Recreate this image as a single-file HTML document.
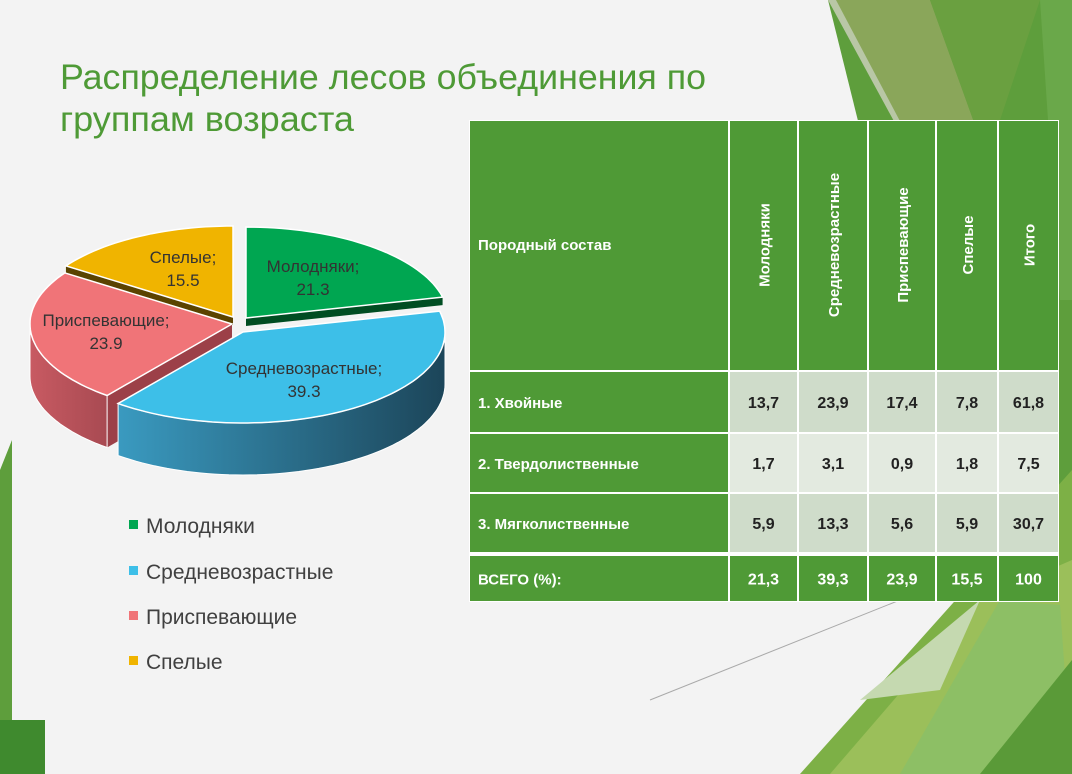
<!DOCTYPE html>
<html><head><meta charset="utf-8"><style>
html,body{margin:0;padding:0;width:1072px;height:774px;overflow:hidden;background:#f3f3f3}
svg{display:block}
text{font-family:"Liberation Sans","DejaVu Sans",sans-serif}
</style></head><body>
<svg id="s" width="1072" height="774" viewBox="0 0 1072 774" xmlns="http://www.w3.org/2000/svg">
<defs>
<linearGradient id="bs" x1="0" x2="1" y1="0" y2="0"><stop offset="0" stop-color="#3a9ac0"/><stop offset="1" stop-color="#1c4559"/></linearGradient>
<linearGradient id="ps" x1="0" x2="1"><stop offset="0" stop-color="#c85a62"/><stop offset="1" stop-color="#a84a52"/></linearGradient>
</defs>
<rect width="1072" height="774" fill="#f3f3f3"/>
<polygon points="828,0 1072,0 1072,774 1020,774" fill="#5e9e3c"/>
<polygon points="828,0 930,0 975,125 900,125" fill="#8aa65a"/>
<polygon points="930,0 1040,0 1000,120 975,125" fill="#6aa040"/>
<polygon points="1040,0 1072,0 1072,300 1060,300" fill="#6aa84a"/>
<polygon points="828,0 836,0 902,125 896,125" fill="#b9c7a6"/>
<polygon points="800,774 1072,470 1072,774" fill="#7db046"/>
<polygon points="830,774 980,600 1072,560 1072,774" fill="#9bbf5a"/>
<polygon points="900,774 1000,600 1060,605 1072,774" fill="#88bf6a" opacity="0.7"/>
<polygon points="980,774 1072,660 1072,774" fill="#5a9a38"/>
<polygon points="860,700 980,600 940,690" fill="#c5d9b0"/>
<line x1="650" y1="700" x2="900" y2="600" stroke="#aaa" stroke-width="1"/>
<polygon points="0,470 12,440 12,774 0,774" fill="#5e9e3c"/>
<rect x="0" y="720" width="45" height="54" fill="#3f8a2e"/>
<text x="60" y="89" font-size="35" fill="#4e9a36" textLength="646" lengthAdjust="spacingAndGlyphs">Распределение лесов объединения по</text>
<text x="60" y="131" font-size="35" fill="#4e9a36" textLength="294" lengthAdjust="spacingAndGlyphs">группам возраста</text>
<g id="pie"></g>
<g font-size="21" fill="#404040">
<rect x="129" y="520" width="9" height="9" fill="#00a651"/><text x="146" y="533">Молодняки</text>
<rect x="129" y="566" width="9" height="9" fill="#3dbfe8"/><text x="146" y="579">Средневозрастные</text>
<rect x="129" y="611" width="9" height="9" fill="#f07478"/><text x="146" y="624">Приспевающие</text>
<rect x="129" y="656" width="9" height="9" fill="#f0b400"/><text x="146" y="669">Спелые</text>
</g>
<g id="tbl"></g>
</svg>
<script>
var NS="http://www.w3.org/2000/svg";
function el(p,n,a,t){var e=document.createElementNS(NS,n);for(var k in a)e.setAttribute(k,a[k]);if(t!=null)e.textContent=t;p.appendChild(e);return e;}
var cx=237,cy=326,rx=202,ry=91,D=52;
function P(th,ox,oy,dy){var r=th*Math.PI/180;return [cx+ox+rx*Math.sin(r),cy+oy-ry*Math.cos(r)+(dy||0)];}
function arc(a,b,ox,oy,dy){var s="";for(var t=a;t<=b+0.001;t+=2){var p=P(Math.min(t,b),ox,oy,dy);s+=p[0].toFixed(1)+","+p[1].toFixed(1)+" ";}var p=P(b,ox,oy,dy);s+=p[0].toFixed(1)+","+p[1].toFixed(1)+" ";return s;}
var pie=document.getElementById("pie");
var sl=[
 {a:0,b:76.7,ox:9,oy:-8,c:"#00a651",side:"#005c2a"},
 {a:304.2,b:360,ox:-4,oy:-9,c:"#f0b400",side:"#6a5000"},
 {a:218.2,b:304.2,ox:-5,oy:-2,c:"#f07478",side:"url(#ps)"},
 {a:76.7,b:218.2,ox:6,oy:6,c:"#3dbfe8",side:"url(#bs)"}
];
sl.forEach(function(s){
 var c0=[cx+s.ox,cy+s.oy];
 if(s.c=="#00a651"){var p=P(76.7,s.ox,s.oy);el(pie,"polygon",{points:c0[0]+","+c0[1]+" "+p[0]+","+p[1]+" "+p[0]+","+(p[1]+8)+" "+c0[0]+","+(c0[1]+8),fill:"#004d22"});}
 if(s.c=="#f0b400"){var p=P(304.2,s.ox,s.oy);el(pie,"polygon",{points:c0[0]+","+c0[1]+" "+p[0]+","+p[1]+" "+p[0]+","+(p[1]+8)+" "+c0[0]+","+(c0[1]+8),fill:"#5a4300"});}
 if(s.c=="#f07478"){var p=P(218.2,s.ox,s.oy);el(pie,"polygon",{points:c0[0]+","+c0[1]+" "+p[0]+","+p[1]+" "+p[0]+","+(p[1]+D)+" "+c0[0]+","+(c0[1]+D),fill:"#9c4048"});}
 var a=Math.max(s.a,90),b=Math.min(s.b,270);
 if(b>a){el(pie,"polygon",{points:arc(a,b,s.ox,s.oy)+arc(a,b,s.ox,s.oy,D).split(" ").filter(Boolean).reverse().join(" "),fill:s.side,stroke:"#fff","stroke-width":"1"});}
 el(pie,"polygon",{points:(cx+s.ox)+","+(cy+s.oy)+" "+arc(s.a,s.b,s.ox,s.oy),fill:s.c,stroke:"#fff","stroke-width":"1.5"});
});
var lb=[["Молодняки;",313,272],["21.3",313,295],["Спелые;",183,263],["15.5",183,286],["Приспевающие;",106,326],["23.9",106,349],["Средневозрастные;",304,374],["39.3",304,397]];
lb.forEach(function(l){el(pie,"text",{x:l[1],y:l[2],"font-size":"17","text-anchor":"middle",fill:"#333"},l[0]);});
var T=document.getElementById("tbl");
var xs=[469,729,798,868,936,998,1059], ys=[120,371,433,493,553,602];
var G="#4f9a36";
el(T,"rect",{x:469,y:120,width:590,height:482,fill:"#fff"});
var fills=[G,"#cfdcca","#e3eae0","#cfdcca",G];
for(var r=0;r<5;r++)for(var c=0;c<6;c++){
 var f=(c==0||r==0)?G:fills[r];
 el(T,"rect",{x:xs[c]+1,y:ys[r]+1+(r==4?2:0),width:xs[c+1]-xs[c]-2,height:ys[r+1]-ys[r]-2-(r==4?2:0),fill:f});
}
var hd=["Молодняки","Средневозрастные","Приспевающие","Спелые","Итого"];
el(T,"text",{x:478,y:250,"font-size":"15","font-weight":"bold",fill:"#fff"},"Породный состав");
hd.forEach(function(h,i){var x=(xs[i+1]+xs[i+2])/2+6;el(T,"text",{x:x,y:245,"font-size":"15","font-weight":"bold",fill:"#fff","text-anchor":"middle",transform:"rotate(-90 "+x+" 245)"},h);});
var rows=[["1. Хвойные","13,7","23,9","17,4","7,8","61,8"],["2. Твердолиственные","1,7","3,1","0,9","1,8","7,5"],["3. Мягколиственные","5,9","13,3","5,6","5,9","30,7"],["ВСЕГО (%):","21,3","39,3","23,9","15,5","100"]];
rows.forEach(function(rw,i){var y=(ys[i+1]+ys[i+2])/2+6+(i==3?1:0);
 el(T,"text",{x:478,y:y,"font-size":"15","font-weight":"bold",fill:"#fff"},rw[0]);
 for(var c=1;c<6;c++)el(T,"text",{x:(xs[c]+xs[c+1])/2,y:y,"font-size":"16","font-weight":"bold","text-anchor":"middle",fill:i==3?"#fff":"#222"},rw[c]);
});
</script>
</body></html>
